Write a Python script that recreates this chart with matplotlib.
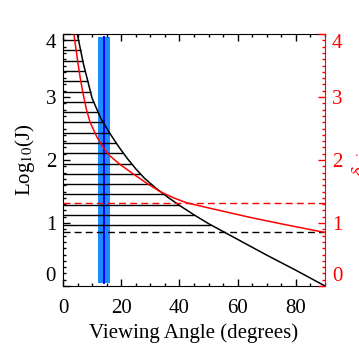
import numpy as np
import matplotlib
matplotlib.use('Agg')
import matplotlib.pyplot as plt
from matplotlib.ticker import MultipleLocator

plt.rcParams['font.family'] = ['Liberation Serif', 'DejaVu Serif']
plt.rcParams['mathtext.fontset'] = 'stix'

# black curve: log10(J) vs viewing angle
angle_black = [5, 7, 10, 13, 16, 19, 22, 25, 28, 32, 36, 40, 45, 50, 60, 70, 80, 90]
logj_black = [3.98, 3.53, 2.98, 2.66, 2.43, 2.22, 2.03, 1.86, 1.71, 1.55, 1.41, 1.28,
              1.13, 0.99, 0.74, 0.49, 0.25, 0.0]

# red curve: delta vs viewing angle (right axis)
angle_red = [3.8, 5, 6, 7, 8, 9.3, 11.6, 13.8, 16, 19.6, 24.1, 28.8, 33.3, 38, 42.5,
             52.8, 64.2, 75.7, 90]
delta_red = [3.98, 3.58, 3.28, 3.03, 2.81, 2.60, 2.37, 2.20, 2.07, 1.93, 1.78, 1.63,
             1.50, 1.40, 1.32, 1.21, 1.09, 0.98, 0.85]

# horizontal hatch levels (filled region under the black curve)
hatch_levels = [0.97, 1.13, 1.29, 1.46, 1.62, 1.78, 1.94, 2.11, 2.27, 2.43,
                2.60, 2.76, 2.92, 3.08, 3.25, 3.41, 3.57, 3.74, 3.90]

# observed viewing angle and its range
view_angle = 14.1
view_lo, view_hi = 12.1, 16.1
band_bottom, band_top = 0.05, 3.95

# reference levels
delta_ref = 1.32
logj_ref = 0.85

fig = plt.figure(figsize=(3.59, 3.59), dpi=100)
ax = fig.add_axes([0.1755, 0.2033, 0.7298, 0.7019])
ax2 = ax.twinx()

# blue band
ax.fill_between([view_lo, view_hi], band_bottom, band_top, color='#1E8CFF', lw=0, zorder=1)
ax.plot([view_angle, view_angle], [band_bottom, band_top], color='#0000FF', lw=1.4, zorder=1.5)

# hatch lines from the axis up to the black curve
x_ends = np.interp(hatch_levels, logj_black[::-1], angle_black[::-1])
ax.hlines(hatch_levels, 0, x_ends, color='black', lw=1.0, zorder=2)

ax.plot(angle_black, logj_black, color='black', lw=1.1, zorder=3)
ax.axhline(logj_ref, color='black', lw=1.0, ls=(0, (5, 3)), zorder=3)

ax2.plot(angle_red, delta_red, color='red', lw=1.1, zorder=3)
ax2.axhline(delta_ref, color='red', lw=1.0, ls=(0, (5, 3)), zorder=3)

ax.set_xlim(0, 90)
ax.set_ylim(0, 4)
ax2.set_ylim(0, 4)

ax.set_xticks([0, 20, 40, 60, 80])
ax.set_yticks([0, 1, 2, 3, 4])
ax2.set_yticks([0, 1, 2, 3, 4])
ax.xaxis.set_minor_locator(MultipleLocator(5))
ax.yaxis.set_minor_locator(MultipleLocator(0.1))
ax2.yaxis.set_minor_locator(MultipleLocator(0.1))

ax.tick_params(which='both', direction='in', top=True, right=False, width=1, labelsize=15)
ax.tick_params(which='major', length=5)
ax.tick_params(which='minor', length=2.5)
ax.tick_params(axis='x', pad=9)
ax.tick_params(axis='y', pad=5)
ax2.tick_params(which='both', direction='in', colors='red', width=1, labelsize=15, pad=5)
ax2.tick_params(which='major', length=5)
ax2.tick_params(which='minor', length=2.5)

ax.spines['right'].set_visible(False)
ax2.spines['right'].set_color('red')
ax2.spines['left'].set_visible(False)
ax2.spines['top'].set_visible(False)
ax2.spines['bottom'].set_visible(False)

for a in (ax, ax2):
    labels = a.get_yticklabels()
    labels[0].set_va('bottom')
    labels[-1].set_va('top')

ax.set_xlabel('Viewing Angle (degrees)', fontsize=15, labelpad=4)
ax.set_ylabel('Log$_{10}$(J)', fontsize=15, labelpad=6)
ax2.set_ylabel(r'$\delta_{\rm min}$', fontsize=15, color='red', labelpad=6)

fig.savefig('out.png', dpi=100)
